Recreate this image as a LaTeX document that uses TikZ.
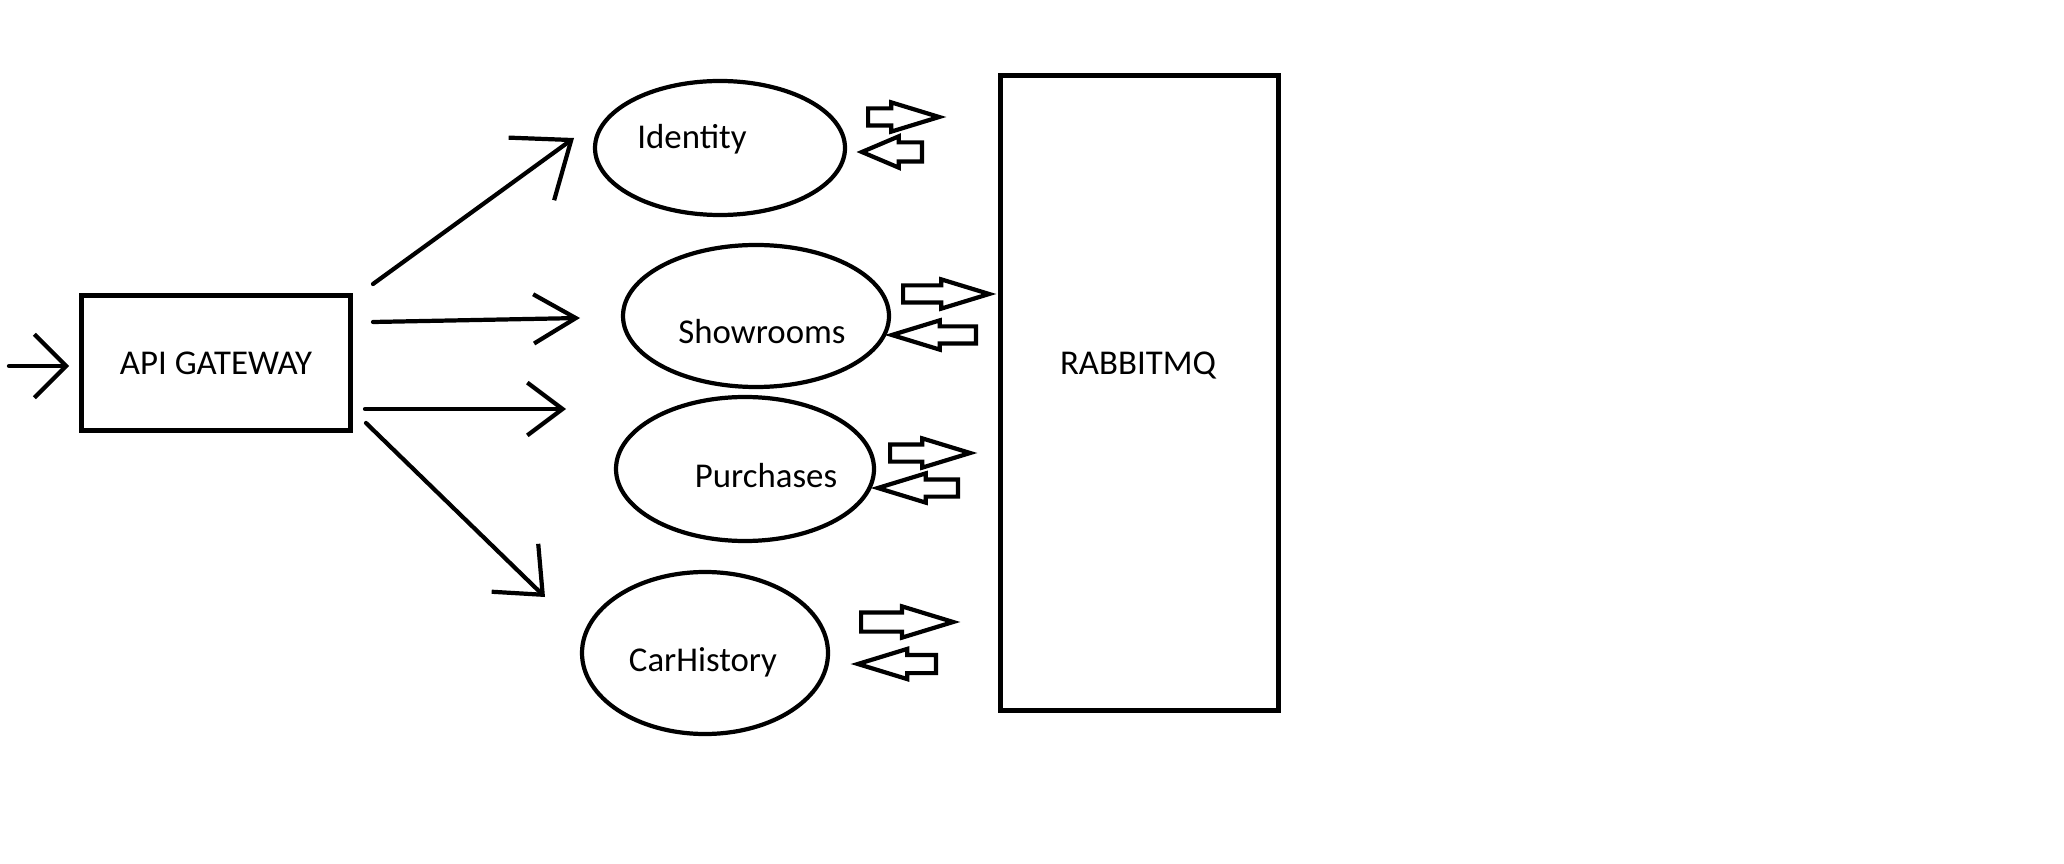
\documentclass[tikz,border=0pt]{standalone}
\usepackage{fontspec}
\setmainfont{Carlito}
\usetikzlibrary{arrows.meta}
\usetikzlibrary{shapes.geometric}
\usetikzlibrary{shapes.arrows}

\begin{document}
\begin{tikzpicture}[x=0.01cm, y=-0.01cm,
  font=\fontsize{9.9}{12}\selectfont,
  box/.style={draw, line width=1.4pt, inner sep=0pt},
  svc/.style={draw, ellipse, line width=1.2pt, inner sep=0pt},
  flow/.style 2 args={line width=1.2pt, line cap=round,
    -{Straight Barb[length=#1, width=#2, line width=1.2pt]}},
  blockarrow/.style={draw, single arrow, line width=1.2pt,
    inner xsep=0pt, inner ysep=6.5*0.01cm, minimum width=0pt,
    single arrow head extend=6*0.01cm, single arrow tip angle=34}
]

\useasboundingbox (0,0) rectangle (2064,864);

% gateway and broker
\node[box, minimum width=269*0.01cm, minimum height=135*0.01cm] (gateway) at (216,363) {API GATEWAY};
\node[box, minimum width=278*0.01cm, minimum height=635*0.01cm] (rabbit) at (1139.5,393) {};
\node (rabbitlbl) at (1138,366) {RABBITMQ};

% services
\node[svc, minimum width=250*0.01cm, minimum height=134*0.01cm] (identity) at (720,148) {};
\node[svc, minimum width=266*0.01cm, minimum height=142*0.01cm] (showrooms) at (756,316) {};
\node[svc, minimum width=258*0.01cm, minimum height=144*0.01cm] (purchases) at (745,469) {};
\node[svc, minimum width=246*0.01cm, minimum height=162*0.01cm] (carhistory) at (705,653) {};

\node (identitylbl) at (692,139) {Identity};
\node (showroomslbl) at (762,332) {Showrooms};
\node (purchaseslbl) at (766,476) {Purchases};
\node (carhistorylbl) at (703,662) {CarHistory};

% arrow ends
\coordinate (in) at (9,366);
\coordinate (inend) at (69,366);
\coordinate (gwa) at (373,284);
\coordinate (gwb) at (373,322);
\coordinate (gwc) at (365,409);
\coordinate (gwd) at (366,423);
\coordinate (ida) at (574,138);
\coordinate (sha) at (580,318);
\coordinate (pua) at (566,409);
\coordinate (cha) at (545,597);

\draw[flow={9pt}{18pt}] (in) -- (inend);
\draw[flow={14pt}{22pt}] (gwa) -- (ida);
\draw[flow={12pt}{14pt}] (gwb) -- (sha);
\draw[flow={10pt}{15pt}] (gwc) -- (pua);
\draw[flow={11pt}{19pt}] (gwd) -- (cha);

% to and from the broker
\node[blockarrow, anchor=tail, minimum height=71*0.01cm] (idout) at (866,117) {};
\node[blockarrow, anchor=tail, shape border rotate=180, minimum height=60*0.01cm, inner ysep=7.5*0.01cm, single arrow tip angle=46] (idin) at (924,152) {};
\node[blockarrow, anchor=tail, minimum height=86*0.01cm] (shout) at (901,294) {};
\node[blockarrow, anchor=tail, shape border rotate=180, minimum height=84*0.01cm] (shin) at (978,335) {};
\node[blockarrow, anchor=tail, minimum height=80*0.01cm] (puout) at (888,453) {};
\node[blockarrow, anchor=tail, shape border rotate=180, minimum height=80*0.01cm] (puin) at (960,488) {};
\node[blockarrow, anchor=tail, minimum height=92*0.01cm, inner ysep=7.5*0.01cm] (chout) at (859,622) {};
\node[blockarrow, anchor=tail, shape border rotate=180, minimum height=78*0.01cm, inner ysep=7*0.01cm] (chin) at (938,664) {};

\end{tikzpicture}
\end{document}
